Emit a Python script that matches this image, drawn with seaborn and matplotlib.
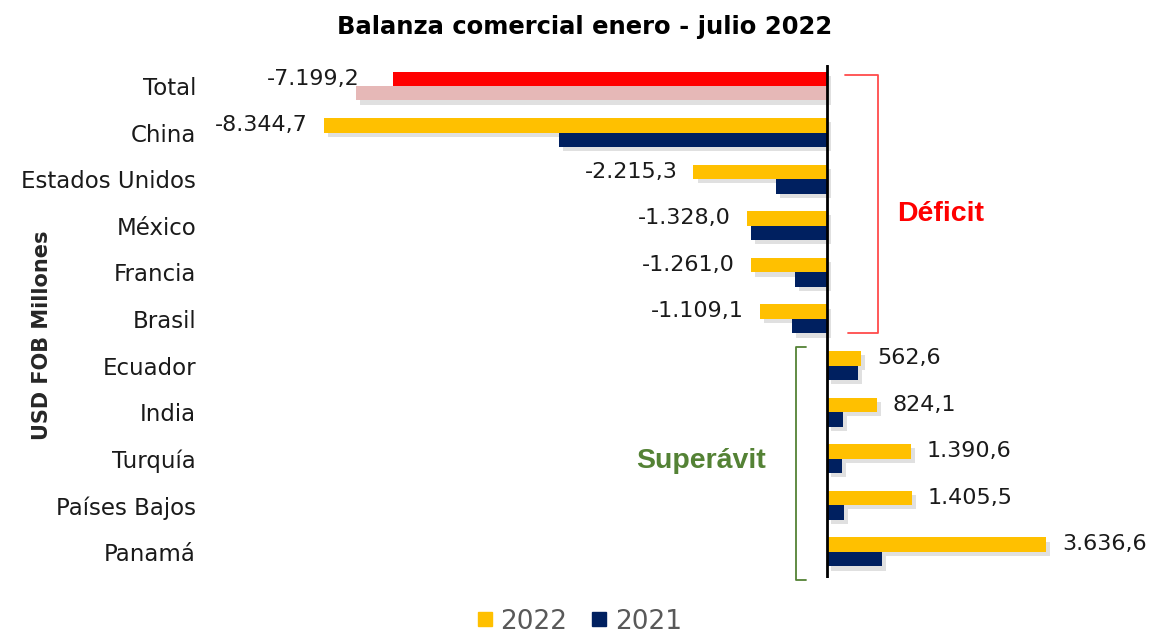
import pandas as pd
import matplotlib.pyplot as plt
import matplotlib.patheffects as pe
from matplotlib.lines import Line2D
import seaborn as sns

paises = ['Total', 'China', 'Estados Unidos', 'México', 'Francia', 'Brasil',
          'Ecuador', 'India', 'Turquía', 'Países Bajos', 'Panamá']
v2022 = [-7199.2, -8344.7, -2215.3, -1328.0, -1261.0, -1109.1,
         562.6, 824.1, 1390.6, 1405.5, 3636.6]
v2021 = [-7821, -4445, -848, -1261, -526, -581,
         520, 265, 254, 287, 918]
etiquetas = ['-7.199,2', '-8.344,7', '-2.215,3', '-1.328,0', '-1.261,0', '-1.109,1',
             '562,6', '824,1', '1.390,6', '1.405,5', '3.636,6']

amarillo = '#FFC000'
azul = '#002060'

df = pd.DataFrame({'pais': paises * 2,
                   'valor': v2022 + v2021,
                   'anio': ['2022'] * len(paises) + ['2021'] * len(paises)})

sns.set_style('white')
plt.rcParams['font.family'] = ['DejaVu Sans']

fig = plt.figure(figsize=(11.53, 6.33), dpi=100)
ax = fig.add_axes([210 / 1153, 1 - 578 / 633, 890 / 1153, 513 / 633])

sns.barplot(data=df, y='pais', x='valor', hue='anio', orient='h',
            hue_order=['2022', '2021'], palette=[amarillo, azul],
            width=0.62, ax=ax, legend=False, saturation=1)

sombra = [pe.SimplePatchShadow(offset=(3, -3), shadow_rgbFace='#9a9a9a', alpha=0.3), pe.Normal()]
for cont in ax.containers:
    for b in cont:
        b.set_path_effects(sombra)
        b.set_linewidth(0)
# fila Total en rojo / rosa
ax.containers[0][0].set_facecolor('#FF0000')
ax.containers[1][0].set_facecolor('#E6B8B7')

ax.set_xlim(-10237, 4530)
ax.set_ylim(10.56, -0.45)
ax.axvline(0, color='black', lw=2, zorder=5)

for s in ax.spines.values():
    s.set_visible(False)
ax.set_xticks([])
ax.set_xlabel('')
ax.set_ylabel('USD FOB Millones', fontsize=15, fontweight='bold')
ax.yaxis.set_label_coords(-0.178, 0.474)
ax.tick_params(axis='y', length=0, pad=10, labelsize=16.5, labelcolor='#1a1a1a')

# etiquetas de datos (solo 2022)
for i, (v, t) in enumerate(zip(v2022, etiquetas)):
    if i == 0:
        x = min(v, v2021[0])
        ax.annotate(t, (x, i - 0.16), xytext=(4, 0), textcoords='offset pixels',
                    ha='right', va='center', fontsize=16, color='#1a1a1a')
    elif v < 0:
        ax.annotate(t, (v, i - 0.16), xytext=(-16, 0), textcoords='offset pixels',
                    ha='right', va='center', fontsize=16, color='#1a1a1a')
    else:
        ax.annotate(t, (v, i - 0.16), xytext=(16, 0), textcoords='offset pixels',
                    ha='left', va='center', fontsize=16, color='#1a1a1a')

# llaves
ax.plot([299, 846, 846, 348], [-0.24, -0.24, 5.3, 5.3], color='#FF4B4B', lw=1.3, clip_on=False)
ax.plot([-348, -514, -514, -348], [5.6, 5.6, 10.6, 10.6], color='#548235', lw=1.3, clip_on=False)
ax.text(1165, 2.75, 'Déficit', color='#FF0000', fontsize=20.5, fontweight='bold',
        family='Liberation Sans', va='center', ha='left')
ax.text(-3170, 8.05, 'Superávit', color='#548235', fontsize=20.5, fontweight='bold',
        family='Liberation Sans', va='center', ha='left')

fig.text(0.507, 0.957, 'Balanza comercial enero - julio 2022', ha='center', va='center',
         fontsize=17.5, fontweight='bold', color='black')

handles = [Line2D([], [], marker='s', ls='', color=amarillo, markersize=10, label='2022'),
           Line2D([], [], marker='s', ls='', color=azul, markersize=10, label='2021')]
fig.legend(handles=handles, loc='center', bbox_to_anchor=(0.499, 0.018), ncol=2, frameon=False,
           fontsize=19, labelcolor='#595959', handletextpad=0.0, columnspacing=0.6,
           handlelength=1.2)

fig.savefig('out.png', dpi=100)
